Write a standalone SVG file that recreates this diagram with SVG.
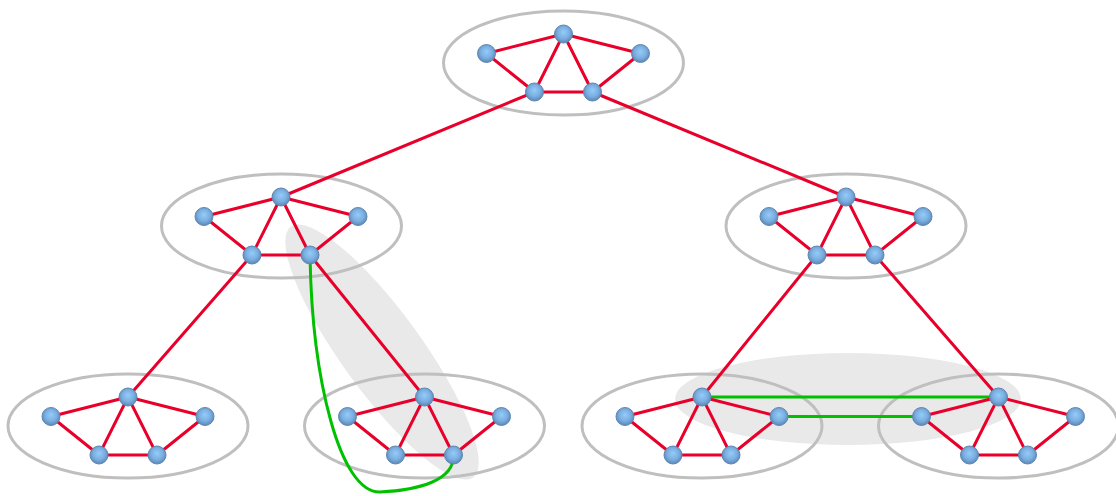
<svg xmlns="http://www.w3.org/2000/svg" width="1116" height="496" viewBox="0 0 1116 496">
<defs>
<radialGradient id="ng" cx="50%" cy="45%" r="55%" fx="50%" fy="40%">
<stop offset="0" stop-color="#94ccfa"/>
<stop offset="0.6" stop-color="#7aaee0"/>
<stop offset="1" stop-color="#5a86b6"/>
</radialGradient>
<style>
.hl{fill:#e9e9e9;stroke:none}
.grp{fill:none;stroke:#bfbfbf;stroke-width:3}
.e{stroke:#e8002a;stroke-width:3;fill:none;stroke-linecap:round}
.g{stroke:#00c000;stroke-width:3;fill:none;stroke-linecap:round}
.n{fill:url(#ng);stroke:#5f87b0;stroke-width:1}
</style>
<g id="node">
<line class="e" x1="0" y1="0" x2="-77" y2="19.5"/>
<line class="e" x1="0" y1="0" x2="77" y2="19.5"/>
<line class="e" x1="-77" y1="19.5" x2="-29" y2="58"/>
<line class="e" x1="77" y1="19.5" x2="29" y2="58"/>
<line class="e" x1="0" y1="0" x2="-29" y2="58"/>
<line class="e" x1="0" y1="0" x2="29" y2="58"/>
<line class="e" x1="-29" y1="58" x2="29" y2="58"/>
</g>
<g id="dots">
<circle class="n" cx="0" cy="0" r="9"/>
<circle class="n" cx="-77" cy="19.5" r="9"/>
<circle class="n" cx="77" cy="19.5" r="9"/>
<circle class="n" cx="-29" cy="58" r="9"/>
<circle class="n" cx="29" cy="58" r="9"/>
</g>
</defs>
<g id="highlights">
<ellipse class="hl" cx="382" cy="352" rx="155" ry="40" transform="rotate(54 382 352)"/>
<ellipse class="hl" cx="848" cy="399" rx="173" ry="46"/>
</g>
<g id="groups">
<ellipse class="grp" cx="563.5" cy="63" rx="120" ry="52"/>
<ellipse class="grp" cx="281.5" cy="226" rx="120" ry="52"/>
<ellipse class="grp" cx="846" cy="226" rx="120" ry="52"/>
<ellipse class="grp" cx="128" cy="426" rx="120" ry="52"/>
<ellipse class="grp" cx="424.5" cy="426" rx="120" ry="52"/>
<ellipse class="grp" cx="702" cy="426" rx="120" ry="52"/>
<ellipse class="grp" cx="998.5" cy="426" rx="120" ry="52"/>
</g>
<g id="connectors">
<line class="e" x1="534.5" y1="92" x2="281" y2="197"/>
<line class="e" x1="592.5" y1="92" x2="846" y2="197"/>
<line class="e" x1="252" y1="255" x2="128" y2="397"/>
<line class="e" x1="310" y1="255" x2="424.5" y2="397"/>
<line class="e" x1="817" y1="255" x2="702" y2="397"/>
<line class="e" x1="875" y1="255" x2="998.5" y2="397"/>
<path class="g" d="M310,255 C312,380 340,493 380,492 C420,490 453.5,480 453.5,456"/>
<line class="g" x1="702" y1="397" x2="998.5" y2="397"/>
<line class="g" x1="779" y1="416.5" x2="921.5" y2="416.5"/>
</g>
<g id="cluster-top"><use href="#node" x="563.5" y="34"/><use href="#dots" x="563.5" y="34"/></g>
<g id="cluster-mid-left"><use href="#node" x="281" y="197"/><use href="#dots" x="281" y="197"/></g>
<g id="cluster-mid-right"><use href="#node" x="846" y="197"/><use href="#dots" x="846" y="197"/></g>
<g id="cluster-bottom-1"><use href="#node" x="128" y="397"/><use href="#dots" x="128" y="397"/></g>
<g id="cluster-bottom-2"><use href="#node" x="424.5" y="397"/><use href="#dots" x="424.5" y="397"/></g>
<g id="cluster-bottom-3"><use href="#node" x="702" y="397"/><use href="#dots" x="702" y="397"/></g>
<g id="cluster-bottom-4"><use href="#node" x="998.5" y="397"/><use href="#dots" x="998.5" y="397"/></g>
</svg>
